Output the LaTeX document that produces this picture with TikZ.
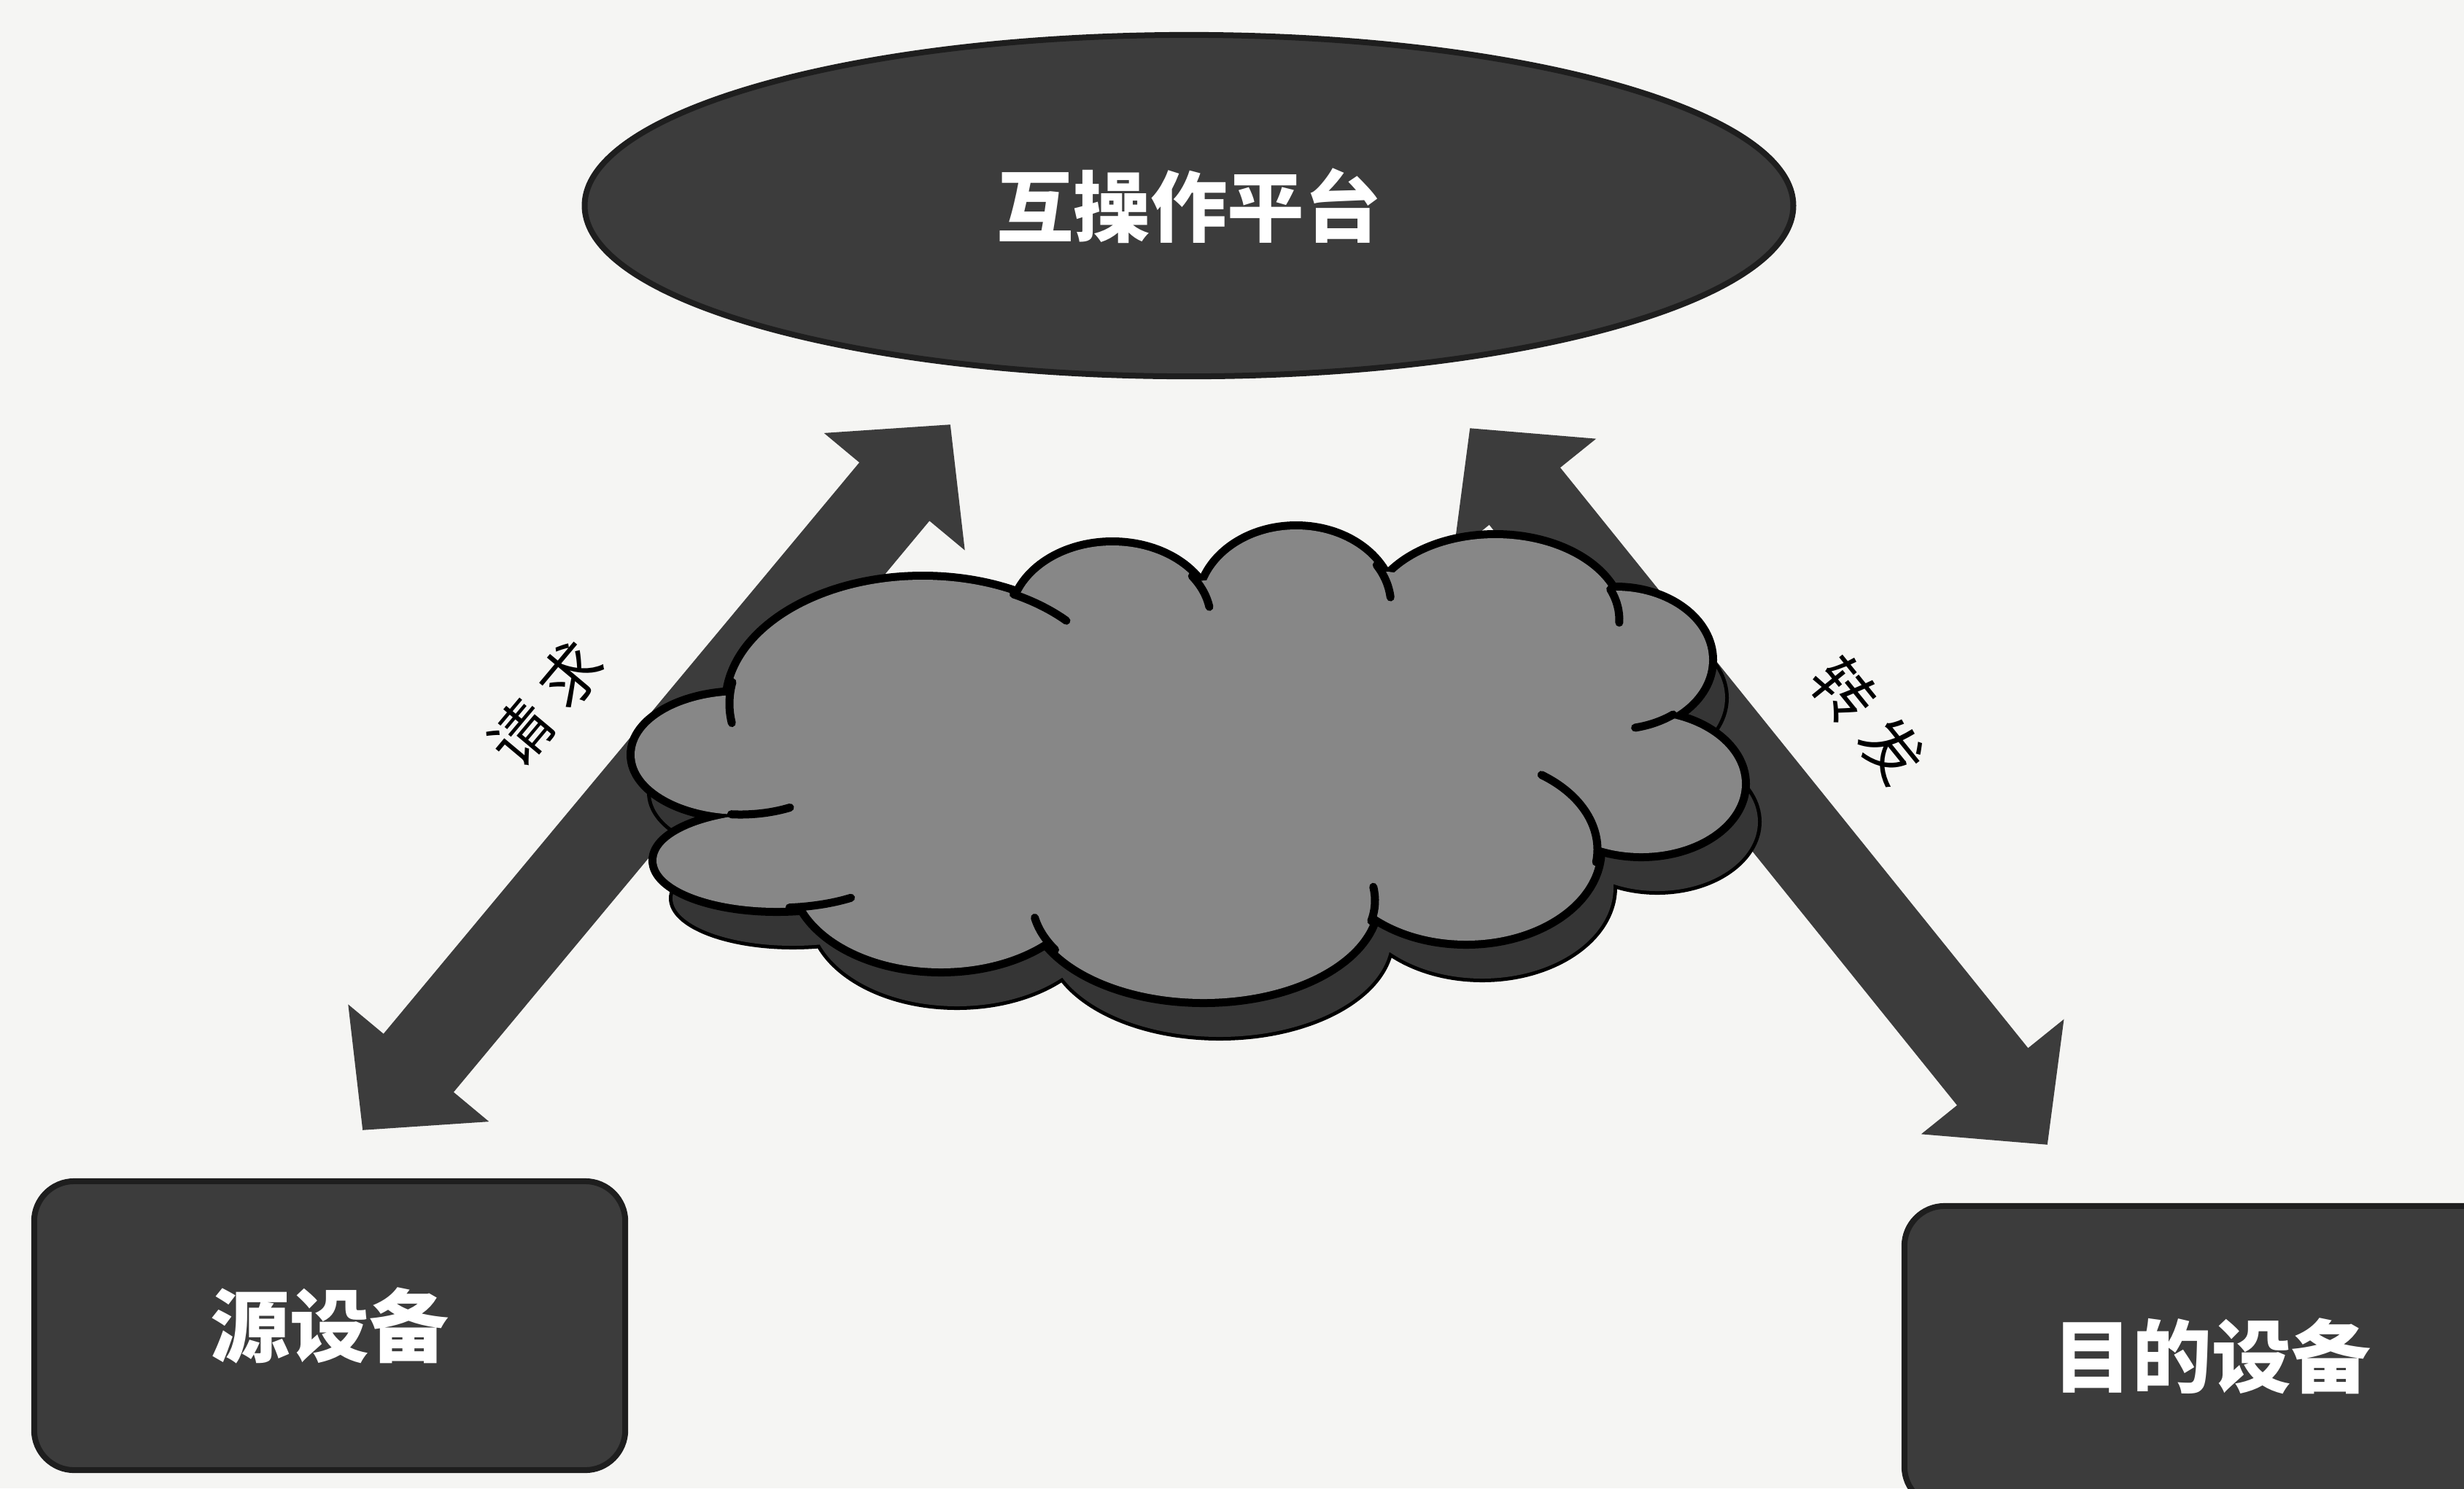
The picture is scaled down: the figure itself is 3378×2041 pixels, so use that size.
\documentclass[tikz,border=0pt]{standalone}
\usepackage{fontspec}
\newfontfamily\cjk{Noto Sans CJK SC}
\usetikzlibrary{shapes.geometric,arrows.meta}
\definecolor{bgc}{HTML}{F5F5F3}
\definecolor{darkfill}{HTML}{3C3C3C}
\definecolor{arrowc}{HTML}{3C3C3C}
\definecolor{cloudc}{HTML}{878787}
\definecolor{shadowc}{HTML}{353535}
\definecolor{rim}{HTML}{1E1E1E}
\def\puffs{1265/965/265/170, 1525/850/135/102, 1777/830/130/104, 2050/850/170/112, 2215/905/128/95, 2250/1075/138/95, 2010/1165/180/125, 1650/1235/235/135, 1290/1200/200/128, 1065/1180/165/65, 1015/1035/145/82}
\def\cloudcore{(1009,956) -- (1399,827) -- (1651,796) -- (1903,784) -- (2214,824) -- (2293,994) -- (2175,1164) -- (1878,1250) -- (1433,1289) -- (1106,1244) -- (1024,1117) -- cycle}
\newcommand\cloudtail[6]{\draw[cloudline] (#1,#2) ++(#5:#3 and #4) arc[start angle=#5, end angle=#6, x radius=#3, y radius=#4];}
\begin{document}
\begin{tikzpicture}[x=0.01cm, y=-0.01cm,
  darkbox/.style={rectangle, rounded corners=0.55cm, fill=darkfill, draw=rim, line width=0.08cm, inner sep=0pt, text=white, font=\cjk\bfseries\fontsize{31}{31}\selectfont},
  platform/.style={ellipse, fill=darkfill, draw=rim, line width=0.08cm, inner sep=0pt, text=white, font=\cjk\bfseries\fontsize{30}{30}\selectfont},
  lbl/.style={inner sep=0pt, text=black, font=\cjk\fontsize{24}{24}\selectfont},
  bigarrow/.style={draw=arrowc, fill=arrowc, line width=1.25cm, arrows={Triangle[length=1.2cm,width=2.44cm]-Triangle[length=1.2cm,width=2.44cm]}},
  cloudline/.style={draw=black, line width=0.11cm, line cap=round}]
\fill[bgc] (0,0) rectangle (3378,2041);
\clip (0,0) rectangle (3378,2041);

% arrows
\coordinate (la) at (497,1550);
\coordinate (lb) at (1303,582);
\coordinate (ra) at (2015,587);
\coordinate (rb) at (2807,1570);
\draw[bigarrow] (la) -- (lb);
\draw[bigarrow] (ra) -- (rb);

% cloud shadow
\begin{scope}[shift={(22,52)}]
  \path[draw=black, line width=0.1cm] \foreach \cx/\cy/\a/\b in \puffs {(\cx,\cy) ellipse [x radius=\a, y radius=\b]};
  \path[fill=shadowc] \foreach \cx/\cy/\a/\b in \puffs {(\cx,\cy) ellipse [x radius=\a, y radius=\b]};
  \fill[shadowc] \cloudcore;
\end{scope}

% cloud
\path[draw=black, line width=0.22cm] \foreach \cx/\cy/\a/\b in \puffs {(\cx,\cy) ellipse [x radius=\a, y radius=\b]};
\path[fill=cloudc] \foreach \cx/\cy/\a/\b in \puffs {(\cx,\cy) ellipse [x radius=\a, y radius=\b]};
\fill[cloudc] \cloudcore;
\cloudtail{1265}{965}{265}{170}{190}{171}
\cloudtail{1015}{1035}{145}{82}{95}{62}
\cloudtail{1065}{1180}{165}{65}{84}{52}
\cloudtail{1650}{1235}{235}{135}{150}{170}
\cloudtail{1650}{1235}{235}{135}{12}{-8}
\cloudtail{2010}{1165}{180}{125}{8}{-55}
\cloudtail{2215}{905}{128}{95}{52}{78}
\cloudtail{2050}{850}{170}{112}{-22}{2}
\cloudtail{1777}{830}{130}{104}{-32}{-6}
\cloudtail{1525}{850}{135}{102}{-36}{-10}
\cloudtail{1265}{965}{265}{170}{-62}{-42}

% nodes
\node[platform, minimum width=16.56cm, minimum height=4.68cm] (plat) at (1630,282) {互操作平台};
\node[darkbox, minimum width=8.1cm, minimum height=3.96cm] (src) at (452,1818) {源设备};
\node[darkbox, minimum width=8.42cm, minimum height=4.12cm] (dst) at (3032,1860) {目的设备};

% labels
\node[lbl, rotate=50] (req) at (748,965) {请\hspace{0.25em}求};
\node[lbl, rotate=-51] (fwd) at (2561,987) {转\hspace{0.25em}发};
\end{tikzpicture}
\end{document}
